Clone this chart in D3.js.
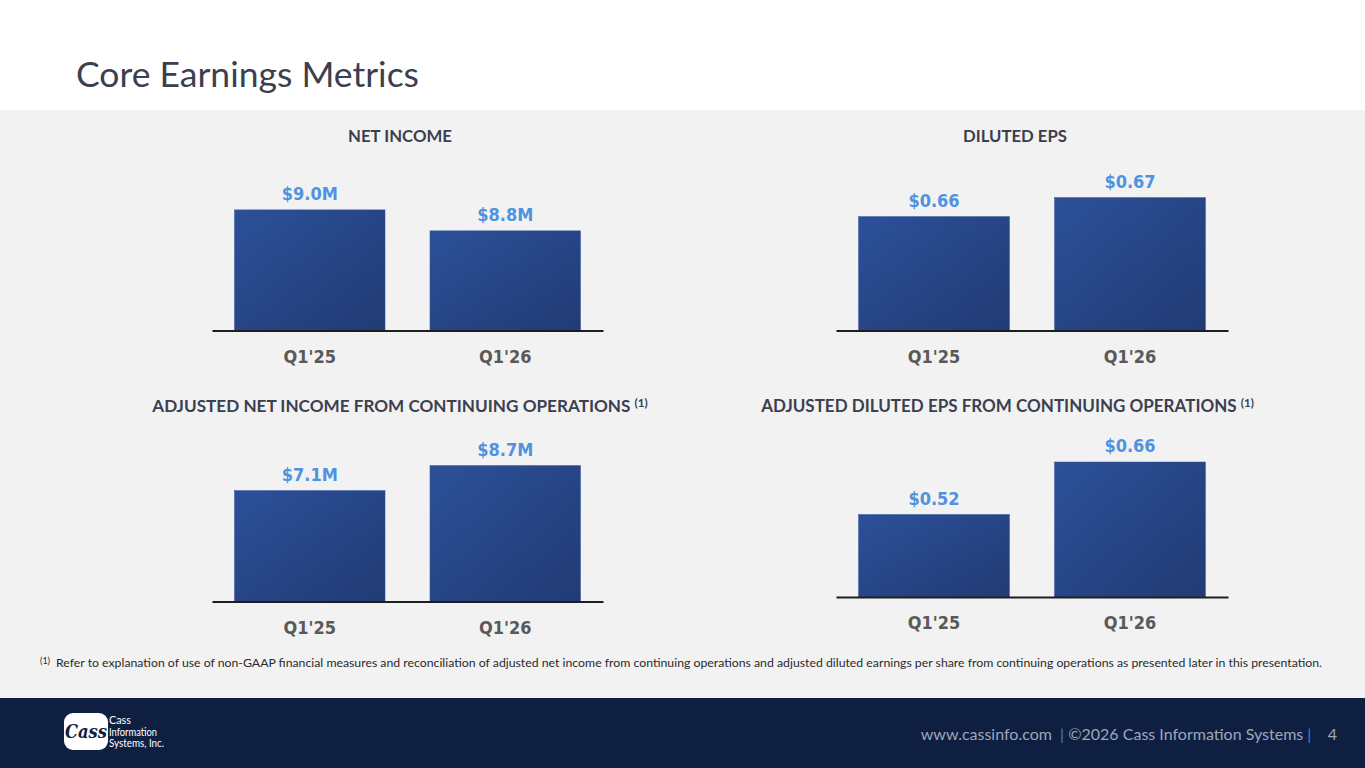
<!DOCTYPE html>
<html>
<head>
<meta charset="utf-8">
<script src="https://cdn.jsdelivr.net/npm/d3@7/dist/d3.min.js"></script>
<style>
  html, body { margin: 0; padding: 0; background: #ffffff; }
  svg { display: block; }
</style>
</head>
<body>
<svg id="chart" width="1365" height="768"></svg>
<script>
// ---------------- DATA ----------------
const categories = ["Q1'25", "Q1'26"];
const chartTitles = [
  "NET INCOME",
  "DILUTED EPS",
  "ADJUSTED NET INCOME FROM CONTINUING OPERATIONS",
  "ADJUSTED DILUTED EPS FROM CONTINUING OPERATIONS"
];
const titleNotes = ["", "", "(1)", "(1)"];
const netIncome = [9.0, 8.8];          // $M
const dilutedEps = [0.66, 0.67];       // $
const adjNetIncome = [7.1, 8.7];       // $M
const adjDilutedEps = [0.52, 0.66];    // $
const valueUnits = ["M", "", "M", ""];
const valueDecimals = [1, 2, 1, 2];
const axisDomains = [[7.85, 9.28], [0.60, 0.679], [0, 9.6], [0.30, 0.70]];
const pageTitle = "Core Earnings Metrics";
const footnote = "Refer to explanation of use of non-GAAP financial measures and reconciliation of adjusted net income from continuing operations and adjusted diluted earnings per share from continuing operations as presented later in this presentation.";
const footerParts = ["www.cassinfo.com", "|", "©2026 Cass Information Systems", "|", "4"];
const logoLines = ["Cass", "Information", "Systems, Inc."];

const seriesList = [netIncome, dilutedEps, adjNetIncome, adjDilutedEps];

// ---------------- LAYOUT ----------------
const svg = d3.select("#chart");
const W = 1365, H = 768;
const panels = [
  { x0: 212, x1: 603, base: 330.5, titleX: 400, titleY: 142, titleW: 104 },
  { x0: 836, x1: 1228, base: 330.5, titleX: 1015, titleY: 142, titleW: 104 },
  { x0: 212, x1: 603, base: 601.5, titleX: 400, titleY: 411.5, titleW: 496 },
  { x0: 836, x1: 1228, base: 597, titleX: 1007.5, titleY: 411.5, titleW: 493 }
];
const plotH = 150;

// backgrounds
svg.append("rect").attr("x", 0).attr("y", 0).attr("width", W).attr("height", 110).attr("fill", "#ffffff");
svg.append("rect").attr("x", 0).attr("y", 110).attr("width", W).attr("height", 588).attr("fill", "#f2f2f2");
svg.append("rect").attr("x", 0).attr("y", 698).attr("width", W).attr("height", 70).attr("fill", "#0f1f42");

// gradient for bars
const defs = svg.append("defs");
const grad = defs.append("linearGradient").attr("id", "barGrad")
  .attr("x1", "0").attr("y1", "0").attr("x2", "1").attr("y2", "1");
grad.append("stop").attr("offset", "0%").attr("stop-color", "#2c5099");
grad.append("stop").attr("offset", "100%").attr("stop-color", "#213b74");

// page title
svg.append("text")
  .attr("x", 76).attr("y", 87)
  .attr("font-family", "Lato, 'Open Sans', sans-serif")
  .attr("font-size", 35.5)
  .attr("fill", "#3b3f51")
  .text(pageTitle);

function fitWidth(textSel, target) {
  const node = textSel.node();
  const w = node.getComputedTextLength();
  if (w > 0) {
    const fs = parseFloat(textSel.attr("font-size"));
    textSel.attr("font-size", fs * target / w);
    textSel.selectAll("tspan.sup").attr("font-size", fs * target / w * 0.68);
  }
}

// ---------------- CHARTS ----------------
seriesList.forEach((values, i) => {
  const p = panels[i];
  const g = svg.append("g");

  const x = d3.scaleBand()
    .domain(categories)
    .range([p.x0, p.x1])
    .paddingInner(0.23)
    .paddingOuter(0.115);

  const y = d3.scaleLinear()
    .domain(axisDomains[i])
    .range([p.base, p.base - plotH]);

  const data = categories.map((c, k) => ({ cat: c, v: values[k] }));

  // bars
  g.selectAll("rect.bar").data(data).enter().append("rect")
    .attr("class", "bar")
    .attr("x", d => x(d.cat))
    .attr("width", x.bandwidth())
    .attr("y", d => y(d.v))
    .attr("height", d => y(axisDomains[i][0]) - y(d.v))
    .attr("fill", "url(#barGrad)")
    .attr("stroke", "#34559c")
    .attr("stroke-width", 0.5);

  // value labels
  g.selectAll("text.val").data(data).enter().append("text")
    .attr("class", "val")
    .attr("x", d => x(d.cat) + x.bandwidth() / 2)
    .attr("y", d => y(d.v) - 10)
    .attr("text-anchor", "middle")
    .attr("font-family", "'DejaVu Sans Condensed', 'DejaVu Sans', sans-serif")
    .attr("font-weight", "bold")
    .attr("font-size", 18)
    .attr("fill", "#4f93e0")
    .text(d => "$" + d.v.toFixed(valueDecimals[i]) + valueUnits[i]);

  // axis
  const axis = d3.axisBottom(x).tickSize(0).tickSizeOuter(0).tickPadding(0);
  const ax = g.append("g").attr("transform", `translate(0,${p.base})`).call(axis);
  ax.select(".domain").attr("stroke", "#1e1e1e").attr("stroke-width", 2);
  ax.selectAll(".tick text")
    .attr("y", 32).attr("dy", 0)
    .attr("font-family", "'DejaVu Sans Condensed', 'DejaVu Sans', sans-serif")
    .attr("font-weight", "bold")
    .attr("font-size", 18)
    .attr("fill", "#595959");

  // chart title
  const t = g.append("text")
    .attr("x", p.titleX).attr("y", p.titleY)
    .attr("text-anchor", "middle")
    .attr("font-family", "Lato, 'Open Sans', sans-serif")
    .attr("font-weight", "bold")
    .attr("font-size", 17)
    .attr("fill", "#3c3f50");
  t.append("tspan").text(chartTitles[i]);
  if (titleNotes[i]) {
    t.append("tspan").text("\u00a0");
    t.append("tspan").attr("class", "sup").attr("font-size", 11.5).attr("dy", -5).text(titleNotes[i]);
  }
  fitWidth(t, p.titleW);
});

// ---------------- FOOTNOTE ----------------
svg.append("text")
  .attr("x", 40).attr("y", 664)
  .attr("font-family", "Lato, 'Open Sans', sans-serif")
  .attr("font-size", 9)
  .attr("fill", "#2a2a2a")
  .text("(1)");
svg.append("text")
  .attr("x", 56).attr("y", 667)
  .attr("font-family", "Lato, 'Open Sans', sans-serif")
  .attr("font-size", 12)
  .attr("fill", "#2a2a2a")
  .attr("textLength", 1266)
  .attr("lengthAdjust", "spacingAndGlyphs")
  .text(footnote);

// ---------------- FOOTER ----------------
const ft = svg.append("text")
  .attr("x", 1337).attr("y", 740)
  .attr("text-anchor", "end")
  .attr("font-family", "Lato, 'Open Sans', sans-serif")
  .attr("font-size", 16)
  .attr("fill", "#9ea6b8")
  .attr("xml:space", "preserve");
footerParts.forEach((s, k) => {
  const sp = ft.append("tspan").text((k === 0 ? "" : (k === 1 ? "  " : (k === 4 ? "    " : " "))) + s);
  if (s === "|") sp.attr("fill", "#3f82d4");
});

// logo
const logo = svg.append("g");
logo.append("rect")
  .attr("x", 64).attr("y", 713).attr("width", 44).attr("height", 37)
  .attr("rx", 9).attr("fill", "#ffffff");
logo.append("text")
  .attr("x", 86).attr("y", 738)
  .attr("text-anchor", "middle")
  .attr("font-family", "'DejaVu Serif', 'Liberation Serif', serif")
  .attr("font-style", "italic")
  .attr("font-weight", "bold")
  .attr("font-size", 18)
  .attr("fill", "#0f1f42")
  .attr("textLength", 42)
  .attr("lengthAdjust", "spacingAndGlyphs")
  .text("Cass");
const logoWidths = [22, 48, 55];
logoLines.forEach((s, k) => {
  logo.append("text")
    .attr("x", 109).attr("y", 724 + k * 11.5)
    .attr("font-family", "'Liberation Sans Narrow', Lato, sans-serif")
    .attr("font-size", 10.5)
    .attr("fill", "#ffffff")
    .attr("textLength", logoWidths[k])
    .attr("lengthAdjust", "spacingAndGlyphs")
    .text(s);
});
</script>
</body>
</html>
